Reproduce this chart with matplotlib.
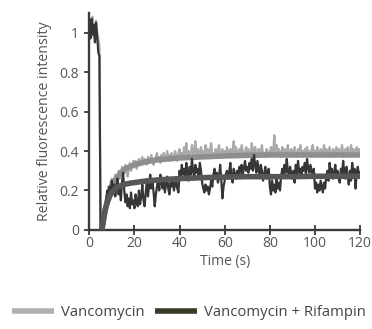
import numpy as np
import matplotlib
matplotlib.use("Agg")
import matplotlib.pyplot as plt
from matplotlib.lines import Line2D

plt.rcParams['font.family'] = ['Open Sans', 'DejaVu Sans']

# time axis: 0 .. 120 s, 0.5 s sampling
time_s = np.arange(0, 120.5, 0.5)

vanco = [
    1.00, 1.05, 0.98, 1.08, 1.02, 0.96, 1.06, 1.00, 0.97, 0.93,
    0.00, 0.00, 0.00, 0.05, 0.10, 0.15, 0.18, 0.22, 0.20, 0.24,
    0.26, 0.23, 0.25, 0.28, 0.24, 0.27, 0.30, 0.26, 0.29, 0.32, 0.28, 0.31, 0.33, 0.29, 0.27, 0.31, 0.34, 0.30, 0.32, 0.35,
    0.33, 0.35, 0.31, 0.34, 0.36, 0.33, 0.35, 0.37, 0.34, 0.36, 0.35, 0.33, 0.37, 0.34, 0.36, 0.38, 0.35, 0.33, 0.36, 0.37,
    0.39, 0.35, 0.37, 0.34, 0.38, 0.36, 0.39, 0.35, 0.37, 0.40, 0.36, 0.38, 0.35, 0.39, 0.37, 0.36, 0.40, 0.38, 0.35, 0.39,
    0.41, 0.37, 0.39, 0.36, 0.42, 0.38, 0.44, 0.37, 0.40, 0.38, 0.39, 0.43, 0.37, 0.40, 0.45, 0.38, 0.41, 0.37, 0.39, 0.42,
    0.38, 0.40, 0.37, 0.43, 0.39, 0.41, 0.37, 0.40, 0.44, 0.38, 0.39, 0.37, 0.41, 0.38, 0.40, 0.43, 0.37, 0.39, 0.41, 0.38,
    0.40, 0.37, 0.42, 0.39, 0.38, 0.41, 0.37, 0.40, 0.45, 0.38, 0.42, 0.39, 0.37, 0.41, 0.38, 0.43, 0.40, 0.37, 0.39, 0.42,
    0.38, 0.41, 0.39, 0.37, 0.44, 0.40, 0.38, 0.42, 0.39, 0.37, 0.41, 0.38, 0.40, 0.43, 0.38, 0.39, 0.37, 0.41, 0.40, 0.38,
    0.39, 0.42, 0.38, 0.40, 0.48, 0.39, 0.43, 0.38, 0.41, 0.39, 0.37, 0.42, 0.39, 0.41, 0.38, 0.40, 0.43, 0.38, 0.39, 0.41,
    0.38, 0.40, 0.42, 0.37, 0.39, 0.41, 0.38, 0.43, 0.39, 0.40, 0.37, 0.41, 0.39, 0.42, 0.38, 0.40, 0.37, 0.41, 0.43, 0.39,
    0.40, 0.38, 0.42, 0.39, 0.37, 0.41, 0.40, 0.38, 0.43, 0.39, 0.41, 0.38, 0.40, 0.42, 0.37, 0.39, 0.41, 0.38, 0.40, 0.42,
    0.39, 0.41, 0.38, 0.40, 0.43, 0.39, 0.37, 0.41, 0.38, 0.42, 0.40, 0.38, 0.43, 0.39, 0.41, 0.38, 0.40, 0.42, 0.39, 0.41,
    0.40,
]

vanco_rif = [
    1.02, 0.97, 1.07, 0.99, 1.04, 0.95, 1.05, 0.98, 0.90, 0.88,
    0.00, 0.00, 0.00, 0.04, 0.10, 0.16, 0.20, 0.15, 0.22, 0.18,
    0.25, 0.19, 0.23, 0.17, 0.21, 0.26, 0.18, 0.22, 0.15, 0.24, 0.29, 0.20, 0.14, 0.18, 0.12, 0.16, 0.11, 0.19, 0.13, 0.15,
    0.11, 0.18, 0.14, 0.12, 0.20, 0.13, 0.17, 0.23, 0.15, 0.12, 0.19, 0.24, 0.17, 0.22, 0.28, 0.21, 0.25, 0.19, 0.12, 0.18,
    0.22, 0.26, 0.20, 0.28, 0.24, 0.21, 0.25, 0.19, 0.23, 0.27, 0.21, 0.18, 0.24, 0.22, 0.26, 0.20, 0.23, 0.25, 0.21, 0.19,
    0.30, 0.26, 0.33, 0.28, 0.31, 0.27, 0.34, 0.29, 0.25, 0.32, 0.28, 0.36, 0.30, 0.26, 0.33, 0.29, 0.31, 0.27, 0.34, 0.30,
    0.24, 0.21, 0.19, 0.23, 0.20, 0.22, 0.18, 0.21, 0.25, 0.22, 0.28, 0.31, 0.26, 0.29, 0.24, 0.27, 0.33, 0.25, 0.16, 0.22,
    0.25, 0.28, 0.30, 0.26, 0.29, 0.34, 0.27, 0.24, 0.31, 0.28, 0.26, 0.30, 0.27, 0.32, 0.29, 0.33, 0.28, 0.31, 0.35, 0.30,
    0.32, 0.29, 0.34, 0.31, 0.36, 0.30, 0.38, 0.33, 0.29, 0.35, 0.31, 0.27, 0.33, 0.30, 0.25, 0.28, 0.32, 0.26, 0.29, 0.31,
    0.22, 0.18, 0.25, 0.20, 0.23, 0.19, 0.26, 0.21, 0.24, 0.20, 0.27, 0.31, 0.28, 0.33, 0.29, 0.36, 0.30, 0.27, 0.32, 0.28,
    0.26, 0.30, 0.24, 0.33, 0.28, 0.35, 0.29, 0.31, 0.27, 0.32, 0.30, 0.34, 0.28, 0.36, 0.31, 0.29, 0.33, 0.30, 0.27, 0.31,
    0.21, 0.24, 0.19, 0.23, 0.20, 0.25, 0.22, 0.19, 0.24, 0.21, 0.27, 0.30, 0.25, 0.34, 0.28, 0.31, 0.26, 0.29, 0.33, 0.27,
    0.30, 0.26, 0.24, 0.31, 0.28, 0.35, 0.29, 0.26, 0.32, 0.27, 0.23, 0.30, 0.25, 0.34, 0.28, 0.31, 0.21, 0.29, 0.32, 0.27,
    0.29,
]

fit_time = [5.5, 6, 7, 8, 9, 10, 12, 14, 16, 18, 20, 25, 30, 35, 40, 50, 60, 70, 80, 90, 100, 110, 120]
vanco_fit = [0.0, 0.03, 0.10, 0.15, 0.19, 0.22, 0.26, 0.29, 0.31, 0.32, 0.33, 0.345, 0.355, 0.36, 0.365,
             0.37, 0.375, 0.378, 0.38, 0.38, 0.38, 0.38, 0.38]
vanco_rif_fit = [0.0, 0.03, 0.10, 0.14, 0.17, 0.19, 0.215, 0.225, 0.232, 0.237, 0.24, 0.248, 0.253, 0.257, 0.26,
                 0.265, 0.268, 0.27, 0.27, 0.27, 0.272, 0.272, 0.272]

x_ticks = [0, 20, 40, 60, 80, 100, 120]
y_ticks = [0, 0.2, 0.4, 0.6, 0.8, 1]
y_tick_labels = ["0", "0.2", "0.4", "0.6", "0.8", "1"]
legend_labels = ["Vancomycin", "Vancomycin + Rifampin"]

fig = plt.figure(figsize=(3.72, 3.29), dpi=100)
ax = fig.add_axes([0.240, 0.301, 0.728, 0.660])

c_v, c_vf = "#aaaaaa", "#8e8e8e"
c_r, c_rf = "#363636", "#575757"

ax.plot(time_s, vanco, color=c_v, lw=1.6, zorder=2)
ax.plot(fit_time, vanco_fit, color=c_vf, lw=4.0, zorder=3, solid_capstyle='butt')
ax.plot(time_s, vanco_rif, color=c_r, lw=1.6, zorder=4)
ax.plot(fit_time, vanco_rif_fit, color=c_rf, lw=4.0, zorder=5, solid_capstyle='butt')

ax.set_xlim(0, 120)
ax.set_ylim(0, 1.1)
ax.set_xticks(x_ticks)
ax.set_yticks(y_ticks)
ax.set_yticklabels(y_tick_labels)

for s in ["top", "right"]:
    ax.spines[s].set_visible(False)
for s in ["left", "bottom"]:
    ax.spines[s].set_color("#3a3a3a")
    ax.spines[s].set_linewidth(1.7)
ax.spines["left"].set_zorder(6)

ax.tick_params(axis="x", direction="inout", length=7, width=1.3, color="#3a3a3a",
               labelsize=10, labelcolor="#555555", pad=1)
ax.tick_params(axis="y", direction="out", length=3.5, width=1.3, color="#3a3a3a",
               labelsize=10, labelcolor="#555555", pad=4)

ax.set_xlabel("Time (s)", fontsize=10, color="#555555", labelpad=2)
ax.set_ylabel("Relative fluorescence intensity", fontsize=10.2, color="#555555", labelpad=5)

handles = [Line2D([0], [0], color="#b0b0b0", lw=4, solid_capstyle='butt'),
           Line2D([0], [0], color="#3a3a28", lw=4, solid_capstyle='butt')]
fig.legend(handles, legend_labels, loc="center", bbox_to_anchor=(0.508, 0.049), ncol=2,
           frameon=False, fontsize=10.7, labelcolor="#444444", handlelength=2.8,
           columnspacing=0.7, handletextpad=0.5)

fig.savefig("out.png", dpi=100)
